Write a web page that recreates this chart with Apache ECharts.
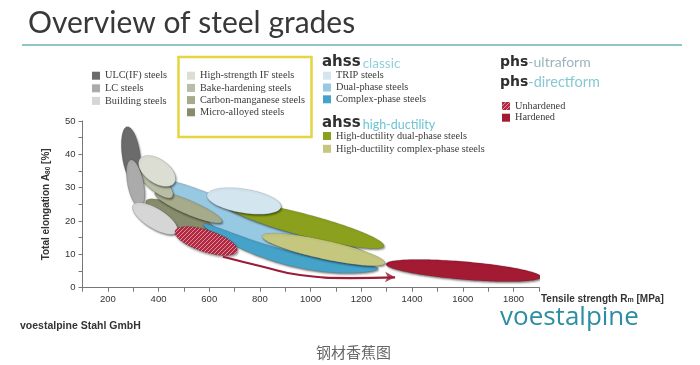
<!DOCTYPE html>
<html><head><meta charset="utf-8">
<script src="https://cdn.jsdelivr.net/npm/echarts@6/dist/echarts.min.js"></script>
<style>html,body{margin:0;padding:0;background:#fff}#c{width:700px;height:365px}</style>
</head><body><div id="c"></div>
<script>
// ---- axis tick labels ----
const xTickLabels = [200, 400, 600, 800, 1000, 1200, 1400, 1600, 1800];
const yTickLabels = [0, 10, 20, 30, 40, 50];

// ---- steel grade regions (tensile strength MPa, elongation %) ----
// straight: [Rm1, A1, Rm2, A2, halfWidth%]; curved: [Rm1, A1, RmCtrl, ACtrl, Rm2, A2, halfWidth%]
const dualPhase      = [418, 31.4, 786, 12.4, 1242, 8.3, 5.7];
const microAlloyed   = [350, 26.0, 640, 15.5, 3.0];
const carbonMn       = [385, 28.4, 650, 19.8, 2.1];
const bakeHardening  = [299, 38.3, 453, 27.2, 2.7];
const ulcIF          = [276, 48.3, 307, 31.4, 2.7];
const lcSteels       = [291, 38.3, 327, 24.2, 2.4];
const buildingSteels = [299, 24.8, 473, 16.7, 3.0];
const hsIF           = [326, 38.6, 462, 31.4, 3.6];
const hdDualPhase    = [662, 25.1, 1289, 12.5, 3.3];
const complexPhase   = [575, 19.1, 917, 5.0, 1266, 5.8, 2.1];
const hdComplexPhase = [808, 15.5, 1293, 7.4, 2.8];
const tripSteels     = [591, 27.8, 883, 24.2, 3.6];
const phsUnhardened  = [465, 17.0, 710, 11.0, 3.3];
const phsHardened    = [1297, 7.1, 1909, 3.2, 2.7];

// hot-forming arrow path
const arrowPath = [[654, 9.3], [812, 6.3], [958, 3.8], [1155, 2.9], [1333, 3.1]];

const hatch = (function () {
  const c = document.createElement('canvas'); c.width = 4; c.height = 4;
  const g = c.getContext('2d');
  g.fillStyle = '#b02a42'; g.fillRect(0, 0, 4, 4);
  g.strokeStyle = '#e49aa8'; g.lineWidth = 0.9;
  g.beginPath(); g.moveTo(0, 4); g.lineTo(4, 0); g.stroke();
  g.beginPath(); g.moveTo(-1, 1); g.lineTo(1, -1); g.stroke();
  g.beginPath(); g.moveTo(3, 5); g.lineTo(5, 3); g.stroke();
  return c;
})();

const grades = [
  ['Dual-phase steels', dualPhase, '#98c9e3'],
  ['Micro-alloyed steels', microAlloyed, '#878c6c'],
  ['Carbon-manganese steels', carbonMn, '#a6ab8b'],
  ['Bake-hardening steels', bakeHardening, '#b8bda5'],
  ['ULC(IF) steels', ulcIF, '#6b6b6b'],
  ['LC steels', lcSteels, '#ababab'],
  ['Building steels', buildingSteels, '#d6d6d6'],
  ['High-strength IF steels', hsIF, '#dcded3'],
  ['Complex-phase steels', complexPhase, '#45a3ca'],
  ['High-ductility dual-phase steels', hdDualPhase, '#8ba11d'],
  ['High-ductility complex-phase steels', hdComplexPhase, '#c5c77f'],
  ['TRIP steels', tripSteels, '#d3e5ef'],
  ['Unhardened', phsUnhardened, {image: hatch, repeat: 'repeat'}],
  ['Hardened', phsHardened, '#a31a33']
];

function makeRender(def, fill) {
  return function (params, api) {
    let p0, p1, p2, w;
    if (def.length === 5) {
      p0 = [def[0], def[1]]; p2 = [def[2], def[3]];
      p1 = [(def[0] + def[2]) / 2, (def[1] + def[3]) / 2]; w = def[4];
    } else {
      p0 = [def[0], def[1]]; p1 = [def[2], def[3]]; p2 = [def[4], def[5]]; w = def[6];
    }
    const a = api.coord(p0), b = api.coord(p1), c = api.coord(p2);
    const hw = Math.abs(api.size([0, w], p1)[1]);
    const N = 80, up = [], lo = [];
    for (let i = 0; i <= N; i++) {
      const phi = Math.PI * i / N, t = (1 - Math.cos(phi)) / 2, h = hw * Math.sin(phi), mt = 1 - t;
      const x = mt * mt * a[0] + 2 * mt * t * b[0] + t * t * c[0];
      const y = mt * mt * a[1] + 2 * mt * t * b[1] + t * t * c[1];
      const dx = 2 * mt * (b[0] - a[0]) + 2 * t * (c[0] - b[0]);
      const dy = 2 * mt * (b[1] - a[1]) + 2 * t * (c[1] - b[1]);
      const L = Math.hypot(dx, dy) || 1, nx = -dy / L, ny = dx / L;
      up.push([x + nx * h, y + ny * h]); lo.push([x - nx * h, y - ny * h]);
    }
    return {
      type: 'polygon',
      shape: {points: up.concat(lo.reverse())},
      style: {fill: fill, stroke: 'rgba(40,40,40,0.25)', lineWidth: 0.6,
        shadowBlur: 2, shadowOffsetX: 1, shadowOffsetY: 1.5, shadowColor: 'rgba(0,0,0,0.45)'}
    };
  };
}

const series = grades.map(function (g) {
  return {
    type: 'custom', name: g[0], coordinateSystem: 'cartesian2d',
    data: [[g[1][0], g[1][1]]], clip: true, silent: true,
    itemStyle: {color: g[2]},
    renderItem: makeRender(g[1], g[2])
  };
});
series.push({
  type: 'line', name: 'arrow', data: arrowPath, smooth: 0.5, silent: true,
  symbol: 'none', showSymbol: false,
  lineStyle: {color: '#9b1c36', width: 2.2}
});
series.push({
  type: 'scatter', name: 'arrowHead', data: [arrowPath[arrowPath.length - 1]], silent: true,
  symbol: 'arrow', symbolSize: [8, 10], symbolRotate: -92,
  itemStyle: {color: '#9b1c36'}
});
series.push({
  type: 'line', name: 'axisExt', data: [[1900, 0], [2410, 0]], clip: false, silent: true,
  symbol: 'none', lineStyle: {color: '#777', width: 1}
});

const legText = {fontFamily: 'Liberation Serif', fontSize: 10.3, color: '#3b3b3b', lineHeight: 10};
function leg(names, left, top, gap) {
  return {data: names, left: left, top: top, orient: 'vertical', icon: 'rect',
    itemWidth: 8, itemHeight: 8, itemGap: gap, padding: 0, selectedMode: false,
    textStyle: legText,
    itemStyle: {borderWidth: 0, shadowBlur: 0, shadowOffsetX: 0, shadowOffsetY: 0}};
}

const chart = echarts.init(document.getElementById('c'), null, {renderer: 'canvas'});
chart.setOption({
  animation: false,
  backgroundColor: '#fff',
  grid: {left: 82.5, right: 161.2, top: 121, bottom: 77.3, containLabel: false},
  xAxis: {
    type: 'value', min: 100, max: 1900, interval: 100,
    axisLine: {show: true, lineStyle: {color: '#777', width: 1}},
    axisTick: {show: true, length: 4, lineStyle: {color: '#777'}},
    splitLine: {show: false},
    axisLabel: {margin: 7, fontSize: 9.5, color: '#333', fontFamily: 'Liberation Sans',
      formatter: function (v) { return xTickLabels.indexOf(v) >= 0 ? String(v) : ''; }}
  },
  yAxis: {
    type: 'value', min: 0, max: 50, interval: 5,
    axisLine: {show: true, lineStyle: {color: '#777', width: 1}},
    axisTick: {show: true, length: 4, lineStyle: {color: '#777'}},
    splitLine: {show: false},
    axisLabel: {margin: 7, fontSize: 9.5, color: '#333', fontFamily: 'Liberation Sans',
      formatter: function (v) { return yTickLabels.indexOf(v) >= 0 ? String(v) : ''; }},
    name: '{a|Total elongation A}{s|80}{a| [%]}', nameLocation: 'middle', nameGap: 31,
    nameTextStyle: {rich: {
      a: {fontFamily: 'Liberation Sans', fontWeight: 'bold', fontSize: 10, color: '#333'},
      s: {fontFamily: 'Liberation Sans', fontWeight: 'bold', fontSize: 6.5, color: '#333', verticalAlign: 'bottom', padding: [3, 0, 0, 0]}
    }}
  },
  legend: [
    leg(['ULC(IF) steels', 'LC steels', 'Building steels'], 92, 70.7, 2.6),
    leg(['High-strength IF steels', 'Bake-hardening steels', 'Carbon-manganese steels', 'Micro-alloyed steels'], 187, 70.7, 2.2),
    leg(['TRIP steels', 'Dual-phase steels', 'Complex-phase steels'], 323, 70.7, 1.8),
    leg(['High-ductility dual-phase steels', 'High-ductility complex-phase steels'], 323, 131, 2.8),
    leg(['Unhardened', 'Hardened'], 502, 101, 1.7)
  ],
  graphic: [
    {type: 'text', left: 28, top: 8, style: {text: 'Overview of steel grades', font: '30px Lato', fill: '#383838'}},
    {type: 'line', shape: {x1: 22, y1: 45, x2: 682, y2: 45}, style: {stroke: '#6cb0bb', lineWidth: 1.5}},
    {type: 'rect', shape: {x: 178.5, y: 57, width: 133, height: 80}, style: {fill: 'none', stroke: '#e5d443', lineWidth: 2.5}},
    {type: 'text', left: 322, top: 55, style: {rich: {
      a: {font: 'bold 15px "DejaVu Sans"', fill: '#2f2f2f'},
      b: {font: '13.5px Lato', fill: '#92cfdc', padding: [2, 0, 0, 2]}}, text: '{a|ahss}{b|classic}'}},
    {type: 'text', left: 322, top: 116, style: {rich: {
      a: {font: 'bold 15px "DejaVu Sans"', fill: '#2f2f2f'},
      b: {font: '12.5px Lato', fill: '#6cc4d4', padding: [2, 0, 0, 2]}}, text: '{a|ahss}{b|high-ductility}'}},
    {type: 'text', left: 500, top: 55, style: {rich: {
      a: {font: 'bold 14px "DejaVu Sans"', fill: '#2f2f2f'},
      b: {font: '14px Lato', fill: '#9db4be', padding: [1, 0, 0, 0]}}, text: '{a|phs}{b|-ultraform}'}},
    {type: 'text', left: 500, top: 75, style: {rich: {
      a: {font: 'bold 14px "DejaVu Sans"', fill: '#2f2f2f'},
      b: {font: '14.5px Lato', fill: '#86c8d4', padding: [1, 0, 0, 0]}}, text: '{a|phs}{b|-directform}'}},
    {type: 'text', left: 541, top: 294, style: {rich: {
      a: {font: 'bold 10px "Liberation Sans"', fill: '#333'},
      s: {font: 'bold 7px "Liberation Sans"', fill: '#333', padding: [3, 0, 0, 0]}}, text: '{a|Tensile strength R}{s|m}{a| [MPa]}'}},
    {type: 'text', left: 20, top: 321, style: {text: 'voestalpine Stahl GmbH', font: 'bold 10.5px "Liberation Sans"', fill: '#333'}},
    {type: 'text', left: 500, top: 305, style: {text: 'voestalpine', font: '26px "Open Sans"', fill: '#2c8ea3'}},
    {type: 'text', left: 316, top: 345, style: {text: '钢材香蕉图', font: '15px "Noto Sans CJK SC"', fill: '#666'}}
  ],
  series: series
});
</script></body></html>
